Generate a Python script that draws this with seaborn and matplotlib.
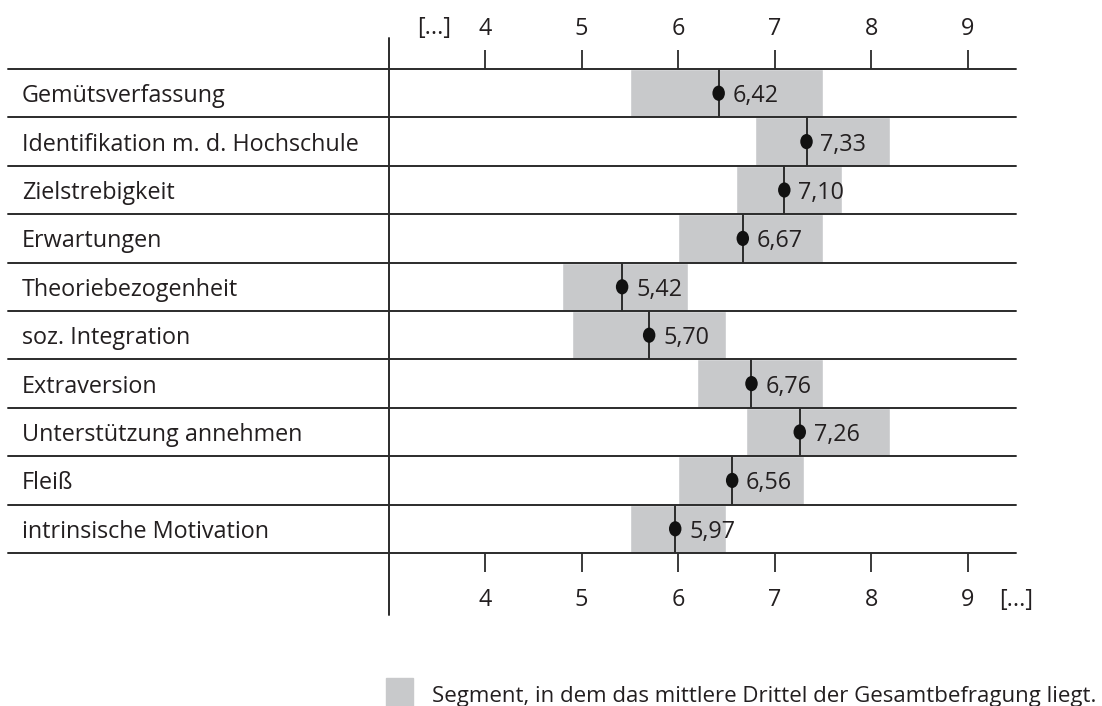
import numpy as np
import pandas as pd
import matplotlib
matplotlib.use("Agg")
import matplotlib.pyplot as plt
import matplotlib.transforms as mtransforms
from matplotlib.path import Path
from matplotlib.patches import Rectangle
import seaborn as sns

# --- data ---
categories = [
    "Gemütsverfassung",
    "Identifikation m. d. Hochschule",
    "Zielstrebigkeit",
    "Erwartungen",
    "Theoriebezogenheit",
    "soz. Integration",
    "Extraversion",
    "Unterstützung annehmen",
    "Fleiß",
    "intrinsische Motivation",
]
means = [6.42, 7.33, 7.10, 6.67, 5.42, 5.70, 6.76, 7.26, 6.56, 5.97]
seg_low = [5.5, 6.8, 6.6, 6.0, 4.8, 4.9, 6.2, 6.7, 6.0, 5.5]
seg_high = [7.5, 8.2, 7.7, 7.5, 6.1, 6.5, 7.5, 8.2, 7.3, 6.5]
ticks = [4, 5, 6, 7, 8, 9]
legend_text = "Segment, in dem das mittlere Drittel der Gesamtbefragung liegt."

df = pd.DataFrame({"cat": categories, "mean": means, "lo": seg_low, "hi": seg_high})
df["row"] = np.arange(len(df))

sns.set_theme(style="white")
plt.rcParams["font.family"] = ["Open Sans", "DejaVu Sans"]

TXT = "#231f20"
LINE = "#2b2b2b"
GRAY = "#c8c9cb"
FS = 16.8

W, H = 1102, 706
fig = plt.figure(figsize=(W / 100, H / 100), dpi=100)
ax_l, ax_r, ax_t, ax_b = 388.5, 1016, 69, 553
ax = fig.add_axes([ax_l / W, 1 - ax_b / H, (ax_r - ax_l) / W, (ax_b - ax_t) / H])

# grey segments
ax.barh(df["row"], df["hi"] - df["lo"], left=df["lo"], height=1.0, color=GRAY, zorder=1)

# mean lines + dots
ax.vlines(df["mean"], df["row"] - 0.5, df["row"] + 0.5, color=LINE, lw=1.4, zorder=3)
circ = Path.unit_circle()
ell = Path(circ.vertices * np.array([0.82, 1.0]), circ.codes)
sns.scatterplot(data=df, x="mean", y="row", marker=ell, s=120, color="#111111",
                edgecolor="none", ax=ax, zorder=4, legend=False)

for _, r in df.iterrows():
    ax.annotate(f"{r['mean']:.2f}".replace(".", ","), (r["mean"], r["row"]),
                xytext=(10, 0), textcoords="offset points", ha="left",
                va="center_baseline", fontsize=FS, color=TXT, zorder=5)

ax.set_xlim(3, 9.5)
ax.set_ylim(len(df) - 0.5, -0.5)
ax.set_yticks([])
ax.set_xlabel("")
ax.set_ylabel("")
for s in ax.spines.values():
    s.set_visible(False)
ax.patch.set_alpha(0)

# row separator lines extending into the label column
x0 = (8 - ax_l) / (ax_r - ax_l)
for b in np.arange(-0.5, len(df), 1.0):
    ax.axhline(b, xmin=x0, xmax=1, color=LINE, lw=1.4, clip_on=False, zorder=2)

# left vertical line at value 3
y_top = 1 + (ax_t - 38) / (ax_b - ax_t)
y_bot = -(615 - ax_b) / (ax_b - ax_t)
ax.axvline(3, ymin=y_bot, ymax=y_top, color=LINE, lw=1.4, clip_on=False, zorder=2)

# ticks bottom and top
ax.set_xticks(ticks)
ax.set_xticklabels([str(t) for t in ticks])
ax.tick_params(axis="x", bottom=True, direction="out", length=14, width=1.3,
               color=LINE, pad=11, labelsize=FS, labelcolor=TXT)
sec = ax.secondary_xaxis("top")
sec.set_xticks(ticks)
sec.set_xticklabels([str(t) for t in ticks])
sec.tick_params(axis="x", top=True, direction="out", length=14, width=1.3,
                color=LINE, pad=6, labelsize=FS, labelcolor=TXT)
for s in sec.spines.values():
    s.set_visible(False)

# "[...]" markers
tr = mtransforms.blended_transform_factory(ax.transData, fig.transFigure)
ax.text(3.47, 1 - 28 / H, "[...]", transform=tr, ha="center", va="center",
        fontsize=FS, color=TXT)
ax.text(9.5, 1 - 600 / H, "[...]", transform=tr, ha="center", va="center",
        fontsize=FS, color=TXT)

# category labels
trl = mtransforms.blended_transform_factory(fig.transFigure, ax.transData)
for _, r in df.iterrows():
    ax.text(22 / W, r["row"], r["cat"], transform=trl, ha="left",
            va="center_baseline", fontsize=FS, color=TXT)

# legend
fig.patches.append(Rectangle((386 / W, 1 - 706 / H), 27 / W, 28 / H,
                             transform=fig.transFigure, color=GRAY))
fig.text(432 / W, 1 - 694 / H, legend_text, ha="left", va="center_baseline",
         fontsize=16, color=TXT)

fig.savefig("out.png", dpi=100)
